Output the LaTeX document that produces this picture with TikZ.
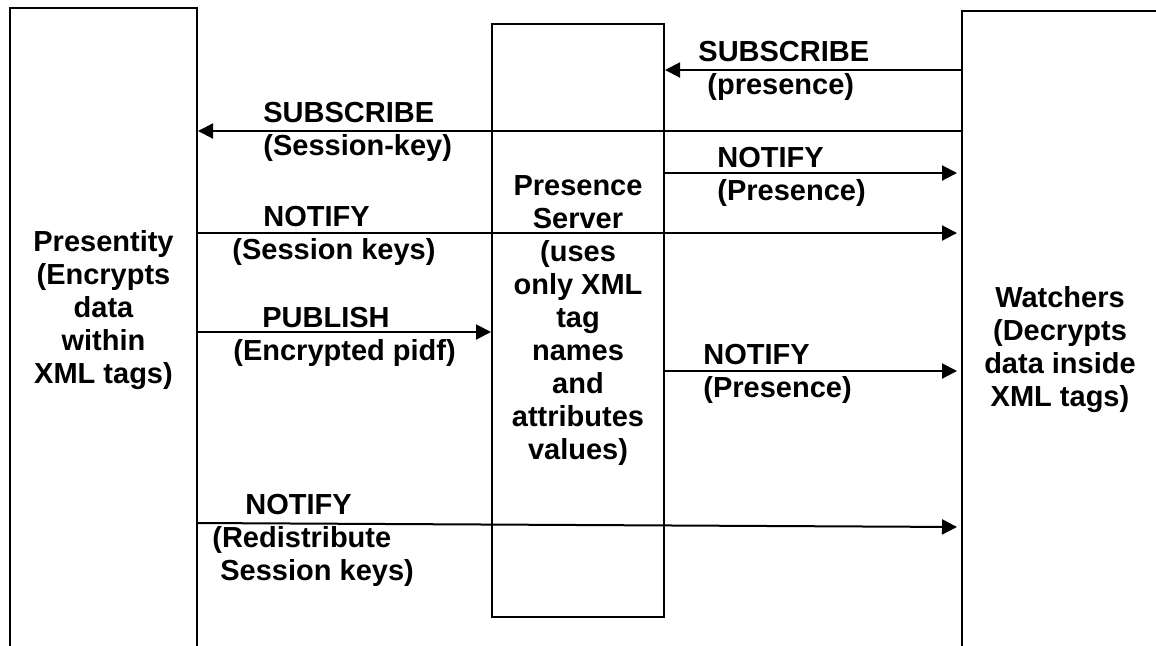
\documentclass[tikz,border=0pt]{standalone}
\usepackage{fontspec}
\setmainfont{Liberation Sans}
\usetikzlibrary{arrows.meta,positioning}
\tikzstyle{boxNode} = [rectangle, draw=black, line width=1pt, align=center]
\tikzstyle{txtNode} = [align=center, inner sep=0pt]
\tikzstyle{tagNode} = [align=left, anchor=north west, inner sep=0pt]
\tikzstyle{arrow} = [line width=1pt, -{Triangle[length=7.5pt,width=7.5pt]}]
\tikzstyle{arrowW} = [arrow, shorten >=2pt]

\begin{document}
\begin{tikzpicture}[x=0.5pt, y=-0.5pt, font=\fontsize{14.5}{16.5}\selectfont\bfseries]
    \clip (0,0) rectangle (1156,645);

    \node (presentity) [boxNode, minimum width=93.5pt, minimum height=346pt] at (103.5,354) {};
    \node (server) [boxNode, minimum width=86pt, minimum height=296.5pt] at (578,320.5) {Presence\\Server\\(uses\\only XML\\tag\\names\\and\\attributes\\values)};
    \node (watchers) [boxNode, minimum width=119pt, minimum height=344.5pt] at (1081,355.5) {};
    \node (presentityText) [txtNode] at (103.5,310) {Presentity\\(Encrypts\\data\\within\\XML tags)};
    \node (watchersText) [txtNode] at (1060,350) {Watchers\\(Decrypts\\data inside\\XML tags)};

    \draw [arrow] (watchers.west |- 0,70) -- (server.east |- 0,70);
    \draw [arrow] (watchers.west |- 0,131) -- (presentity.east |- 0,131);
    \draw [arrowW] (server.east |- 0,173) -- (watchers.west |- 0,173);
    \draw [arrowW] (presentity.east |- 0,233) -- (watchers.west |- 0,233);
    \draw [arrow] (presentity.east |- 0,332) -- (server.west |- 0,332);
    \draw [arrowW] (server.east |- 0,371) -- (watchers.west |- 0,371);
    \draw [arrowW] (presentity.east |- 0,523) -- (watchers.west |- 0,527);

    \node (subPres) [tagNode] at (698,41) {SUBSCRIBE\\\hspace*{4.5pt}(presence)};
    \node (subKey) [tagNode] at (263,102) {SUBSCRIBE\\(Session-key)};
    \node (notPres) [tagNode] at (717,147) {NOTIFY\\(Presence)};
    \node (notKeys) [tagNode] at (232,206) {\hspace*{15.5pt}NOTIFY\\(Session keys)};
    \node (pubPidf) [tagNode] at (233,307) {\hspace*{14.5pt}PUBLISH\\(Encrypted pidf)};
    \node (notPres2) [tagNode] at (703,344) {NOTIFY\\(Presence)};
    \node (notRedist) [tagNode] at (212,494) {\hspace*{16.5pt}NOTIFY\\(Redistribute\\\hspace*{4pt}Session keys)};
\end{tikzpicture}
\end{document}
